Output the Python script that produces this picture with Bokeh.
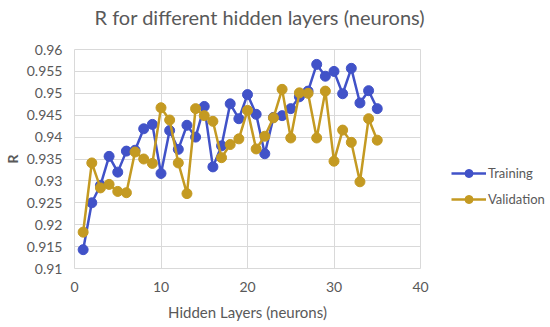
from bokeh.plotting import figure
from bokeh.models import FixedTicker, Legend, LegendItem, Title
from bokeh.embed import file_html
from bokeh.resources import INLINE

neurons = list(range(1, 36))
training = [0.9143, 0.925, 0.929, 0.9356, 0.932, 0.9368, 0.937, 0.9419, 0.9429, 0.9317,
            0.9415, 0.9372, 0.9427, 0.940, 0.947, 0.9332, 0.938, 0.9476, 0.9442, 0.9497,
            0.9452, 0.9362, 0.9445, 0.9449, 0.9465, 0.9492, 0.9505, 0.9566, 0.9539, 0.955,
            0.9499, 0.9557, 0.9478, 0.9506, 0.9465]
validation = [0.9183, 0.9341, 0.9284, 0.9292, 0.9276, 0.9273, 0.9366, 0.935, 0.934, 0.9467,
              0.9439, 0.9341, 0.9271, 0.9465, 0.9449, 0.9436, 0.9353, 0.9383, 0.9396, 0.9461,
              0.9373, 0.9402, 0.9444, 0.9509, 0.9398, 0.9501, 0.950, 0.9398, 0.9505, 0.9345,
              0.9416, 0.9388, 0.9298, 0.9442, 0.9393]
x_ticks = [0, 10, 20, 30, 40]
y_ticks = [0.91, 0.915, 0.92, 0.925, 0.93, 0.935, 0.94, 0.945, 0.95, 0.955, 0.96]
y_labels = ["0.91", "0.915", "0.92", "0.925", "0.93", "0.935", "0.94", "0.945", "0.95", "0.955", "0.96"]
title_text = "R for different hidden layers (neurons)"

FONT = "Lato"
GRAY = "#595959"
BLUE = "#4152C8"
GOLD = "#C49A22"

p = figure(output_backend="svg", toolbar_location=None,
           frame_width=346, frame_height=219,
           x_range=(0, 40), y_range=(0.91, 0.96),
           min_border_left=65, min_border_right=131, min_border_top=49, min_border_bottom=52)
p.background_fill_color = "white"
p.border_fill_color = "white"
p.outline_line_color = "#D9D9D9"

spacer = Title(text=" ", text_font_size="17px", standoff=0)
p.add_layout(spacer, "above")
p.title = Title(text=title_text, align="left", offset=20, standoff=0,
                text_font=FONT, text_font_size="20px", text_font_style="normal",
                text_color=GRAY)

for ax in (p.xaxis[0], p.yaxis[0]):
    ax.axis_line_color = None
    ax.major_tick_line_color = None
    ax.minor_tick_line_color = None
    ax.major_tick_out = 0
    ax.major_tick_in = 0
    ax.minor_tick_out = 0
    ax.minor_tick_in = 0
    ax.major_label_text_font = FONT
    ax.major_label_text_font_size = "14px"
    ax.major_label_text_color = GRAY
    ax.axis_label_text_font = FONT
    ax.axis_label_text_color = GRAY

p.xaxis.ticker = FixedTicker(ticks=x_ticks)
p.yaxis.ticker = FixedTicker(ticks=y_ticks)
p.yaxis.major_label_overrides = dict(zip(y_ticks, y_labels))
p.xaxis.axis_label = "Hidden Layers (neurons)"
p.xaxis.axis_label_text_font_size = "15px"
p.xaxis.axis_label_text_font_style = "normal"
p.xaxis.major_label_standoff = 13
p.xaxis.axis_label_standoff = 8
p.yaxis.axis_label = "R"
p.yaxis.axis_label_text_font_size = "14px"
p.yaxis.axis_label_text_font_style = "bold"
p.yaxis.major_label_standoff = 12
p.yaxis.axis_label_standoff = 3

p.xgrid.grid_line_color = "#D9D9D9"
p.ygrid.grid_line_color = "#D9D9D9"

lt = p.line(neurons, training, line_color=BLUE, line_width=2.5)
ct = p.scatter(neurons, training, size=10, fill_color=BLUE, line_color=BLUE)
lv = p.line(neurons, validation, line_color=GOLD, line_width=2.5)
cv = p.scatter(neurons, validation, size=10, fill_color=GOLD, line_color=GOLD)

legend = Legend(items=[LegendItem(label="Training", renderers=[lt, ct]),
                       LegendItem(label="Validation", renderers=[lv, cv])],
                location=(31, 59), padding=0, spacing=6, margin=0,
                glyph_width=35, glyph_height=20, label_height=20,
                label_standoff=2,
                label_text_font=FONT, label_text_font_size="13px", label_text_color=GRAY,
                border_line_color=None, background_fill_alpha=0)
p.add_layout(legend, "right")

open("out.html", "w").write(file_html(p, INLINE))
